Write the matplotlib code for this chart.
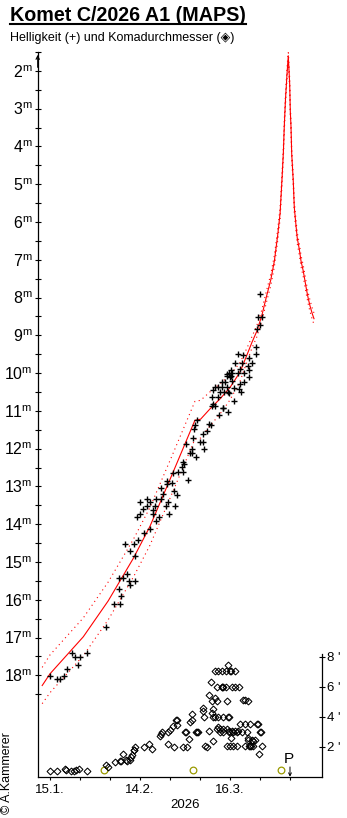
import matplotlib
matplotlib.use('Agg')
import matplotlib.pyplot as plt
from matplotlib.lines import Line2D
import numpy as np

plt.rcParams['font.family'] = ['Liberation Sans', 'DejaVu Sans']
plt.rcParams['mathtext.fontset'] = 'custom'
plt.rcParams['mathtext.rm'] = 'Liberation Sans'
plt.rcParams['mathtext.it'] = 'Liberation Sans:italic'
plt.rcParams['mathtext.bf'] = 'Liberation Sans:bold'

# ---- data (x = day of year 2026, 1 = 1 Jan) ----
mag_days = [14.9, 17.4, 18.4, 19.8, 20.6, 22.4, 23.4, 25.1, 24.4, 27.4,
            33.8, 36.5, 38.4, 38.6, 38.1, 41.7, 41.2, 43.4, 40.8, 38.1,
            39.4, 41.7, 40.1, 43.1, 43.5, 44.4, 46.4, 48.4, 44.1, 45.1,
            46.1, 47.2, 47.4, 48.4, 49.2, 49.4, 50.3, 51.4, 50.1, 50.2,
            52.1, 52.8, 53.6, 54.2, 54.8, 52.1, 54.0, 54.1, 56.1, 55.8,
            56.4, 45.0, 56.8, 57.2, 57.6, 59.4, 59.1, 59.4, 59.8, 60.9,
            60.2, 61.7, 62.4, 62.2, 63.6, 62.8, 65.0, 65.9, 66.3, 66.1,
            67.4, 68.1, 68.6, 63.9, 63.3, 63.1, 68.9, 69.4, 68.9, 70.0,
            72.6, 71.4, 71.1, 69.4, 70.0, 71.1, 72.2, 73.9, 73.0, 74.4,
            72.2, 73.3, 74.1, 75.0, 71.7, 74.7, 76.4, 74.4, 72.8, 76.4,
            78.0, 78.7, 78.3, 79.8, 81.4, 75.7, 73.9, 75.2, 74.6, 75.6,
            77.6, 79.8, 75.2, 78.3, 81.4, 80.9, 76.6, 78.9, 82.2, 81.3,
            77.6, 79.4, 83.6, 83.6, 85.1, 84.4, 85.6, 85.1, 84.1]
mag_values = [18.01, 18.11, 18.11, 18.02, 17.83, 17.41, 17.52, 17.52, 17.73, 17.41,
              16.73, 16.12, 16.12, 15.91, 15.72, 15.61, 15.51, 15.51, 15.33, 15.42,
              15.42, 14.72, 14.52, 14.52, 14.83, 14.41, 14.22, 14.12, 13.82, 13.73,
              13.61, 13.51, 13.34, 13.40, 13.62, 13.73, 13.91, 13.81, 13.52, 13.33,
              13.32, 13.21, 13.52, 13.40, 13.73, 13.03, 12.85, 12.93, 12.64, 12.92,
              13.12, 13.40, 13.52, 13.23, 12.61, 12.61, 12.48, 12.35, 12.41, 12.82,
              11.88, 12.11, 12.11, 12.02, 12.22, 11.72, 11.82, 11.82, 12.02, 11.62,
              11.52, 11.34, 11.38, 11.25, 11.38, 11.47, 10.62, 10.82, 10.88, 10.86,
              10.93, 11.12, 10.62, 10.46, 10.38, 10.38, 10.38, 10.38, 10.51, 10.51,
              10.23, 10.23, 10.03, 10.11, 10.51, 10.53, 10.73, 11.02, 10.92, 10.40,
              10.42, 10.51, 10.29, 10.23, 10.11, 10.22, 10.09, 10.09, 10.00, 10.00,
              10.00, 10.00, 9.92, 9.88, 9.91, 9.81, 9.72, 9.72, 9.72, 9.61,
              9.50, 9.52, 9.50, 9.32, 8.73, 8.52, 8.52, 7.91, 8.84]

coma_days = [14.9, 17.4, 19.9, 20.3, 21.9, 22.9, 23.6, 24.6, 27.4,
             33.8, 34.3, 36.6, 38.2, 38.8, 39.3, 40.4, 40.6, 41.6, 41.9, 42.2, 42.9, 43.1, 43.3,
             46.4, 48.1, 49.1, 51.7, 52.0, 52.2, 54.2, 54.2, 55.0, 55.9, 56.4, 56.9, 57.2, 57.2,
             59.2, 60.0, 60.2, 60.6, 61.4, 61.7, 62.2, 62.2, 63.6, 64.1, 64.4,
             65.9, 66.1, 66.3, 66.7, 67.4, 68.1, 68.1, 68.7, 68.9, 68.9, 69.4, 69.4, 69.4,
             70.0, 70.0, 70.0, 70.6, 70.6, 70.6, 71.1, 71.1, 71.1, 71.7, 71.7,
             72.2, 72.3, 72.2, 72.8, 72.8, 72.8, 72.8, 73.7, 73.7, 73.9, 73.9, 73.9,
             74.4, 74.6, 74.4, 74.7, 74.8, 75.0, 75.1, 75.3, 75.3, 75.6, 75.6, 76.1, 76.1,
             76.7, 76.7, 76.7, 77.2, 77.4, 77.8,
             78.1, 78.3, 78.9, 79.2, 80.0, 80.0, 80.0, 80.6, 81.1, 81.1, 81.1, 81.7,
             81.5, 81.7, 81.9, 82.2, 82.8, 82.8, 83.3, 84.0, 84.2, 84.8, 85.1, 85.3, 85.6]
coma_arcmin = [0.40, 0.40, 0.53, 0.47, 0.40, 0.40, 0.47, 0.53, 0.40,
               0.75, 0.62, 0.98, 1.02, 1.02, 1.53, 1.13, 1.02, 1.13, 1.31, 1.47, 1.80, 1.80, 1.98,
               1.98, 2.20, 1.87, 2.73, 2.85, 2.96, 2.96, 2.20, 3.13, 3.36, 1.96, 3.80, 3.76, 3.47,
               1.96, 2.96, 2.96, 1.96, 2.51, 3.64, 3.76, 4.18, 2.96, 2.96, 2.96,
               4.36, 4.58, 3.98, 2.07, 1.98, 5.47, 3.02, 6.31, 4.24, 5.02, 4.53, 2.40, 3.98,
               5.25, 3.98, 7.02, 5.98, 5.07, 3.15, 7.02, 3.98, 3.31, 2.98, 3.20,
               5.98, 5.98, 7.02, 5.98, 3.98, 2.98, 3.15, 7.02, 5.98, 5.02, 2.07, 3.20,
               3.98, 3.98, 7.42, 2.98, 3.02, 2.07, 7.02, 7.02, 2.58, 5.98, 3.02, 2.07, 2.98,
               7.02, 5.98, 3.02, 2.07, 2.98, 3.02,
               5.98, 3.53, 2.98, 5.09, 5.13, 3.53, 2.07, 2.98, 5.02, 2.58, 2.47, 3.53,
               2.07, 2.07, 2.07, 2.47, 2.07, 2.40, 2.47, 3.53, 3.53, 1.51, 2.98, 2.98, 2.07]

curve_days = [12.4, 15.0, 26.1, 34.4, 42.8, 48.3, 56.1, 63.3, 65.2, 68.3,
              71.7, 75.0, 78.3, 80.7, 82.3, 83.9, 85.6, 87.2, 88.6, 89.8,
              90.9, 91.7, 92.4, 92.8, 93.1, 93.5, 94.0, 94.43, 94.9, 95.1,
              95.33, 95.57, 96.1, 96.43, 97.0, 97.43, 98.1, 98.67, 99.43, 100.0,
              100.57, 101.1, 101.67, 102.43, 103.0]
curve_mags = [18.27, 17.96, 16.98, 16.03, 14.90, 14.06, 12.61, 11.25, 11.22, 10.95,
              10.68, 10.38, 9.98, 9.51, 9.19, 8.90, 8.48, 7.96, 7.53, 7.03,
              6.35, 5.77, 4.77, 4.14, 3.46, 2.75, 2.09, 1.60, 2.35, 3.06,
              3.46, 4.19, 4.93, 5.61, 6.09, 6.43, 6.72, 7.03, 7.30, 7.56,
              7.82, 8.03, 8.22, 8.43, 8.56]
# half-width of the dotted uncertainty band (mag) at each curve point
band_halfwidth = [0.48, 0.50, 0.50, 0.50, 0.50, 0.50, 0.50, 0.50, 0.50, 0.45,
                  0.40, 0.33, 0.25, 0.18, 0.15, 0.15, 0.15, 0.15, 0.15, 0.15,
                  0.15, 0.15, 0.15, 0.15, 0.15, 0.15, 0.15, 0.15, 0.15, 0.15,
                  0.15, 0.15, 0.15, 0.15, 0.15, 0.15, 0.15, 0.15, 0.15, 0.15,
                  0.15, 0.15, 0.15, 0.15, 0.15]

fullmoon_days = [33.0, 62.8, 92.0]
fullmoon_arcmin = [0.47, 0.47, 0.47]
perihelion_day = 95.0

mag_ticks = list(range(2, 19))
mag_minor = [m + 0.5 for m in range(1, 19)]
date_ticks = [15, 25, 35, 45, 55, 65, 75, 85, 95]
date_label_days = [15, 45, 75]
date_labels = ['15.1.', '14.2.', '16.3.']
coma_ticks = [2, 4, 6, 8]

# ---- figure ----
W, H = 347, 818
fig = plt.figure(figsize=(W / 100, H / 100), dpi=100)
x0, x1, ytop, ybot = 37.7, 322.0, 52.0, 776.7
ax = fig.add_axes([x0 / W, (H - ybot) / H, (x1 - x0) / W, (ybot - ytop) / H])
ax2 = ax.twinx()
ax.set_zorder(2)
ax.patch.set_visible(False)

ax.set_xlim(10.9, 105.67)
ax.set_ylim(20.684, 1.613)
ax2.set_ylim(0, (ybot - ytop) / 15.0)

red = '#ff0000'
cd = np.array(curve_days)
cm = np.array(curve_mags)
bw = np.array(band_halfwidth)
ax.plot(cd, cm, color=red, lw=0.8, zorder=3)
ax.plot(cd, cm - bw, color=red, lw=0.8, ls=(0, (1, 3.2)), zorder=3)
ax.plot(cd, cm + bw, color=red, lw=0.8, ls=(0, (1, 3.2)), zorder=3)
ax.plot(mag_days, mag_values, '+', color='black', ms=4.5, mew=1.0, zorder=4)

ax2.plot(coma_days, coma_arcmin, 'D', ms=3.5, mfc='none', mec='black', mew=0.75, zorder=3)
ax2.plot(fullmoon_days, fullmoon_arcmin, 'o', ms=4.8, mfc='none', mec='#9a9a00', mew=0.9)

# spines
for s in ['top', 'right']:
    ax.spines[s].set_visible(False)
for s in ['top', 'left', 'bottom']:
    ax2.spines[s].set_visible(False)
for a in (ax, ax2):
    for s in a.spines.values():
        s.set_linewidth(0.9)
ax2.spines['right'].set_bounds(0, 8.15)

# left ticks
ax.set_yticks(mag_ticks)
ax.set_yticklabels([r'$\mathrm{%d}^{\mathrm{m}}$' % m for m in mag_ticks], fontsize=11.5)
ax.set_yticks(mag_minor, minor=True)
ax.tick_params(axis='y', which='both', direction='inout', length=4.5, width=0.8, pad=1.5)

# bottom ticks
ax.set_xticks(date_ticks)
ax.set_xticklabels([date_labels[date_label_days.index(d)] if d in date_label_days else ''
                    for d in date_ticks], fontsize=9.5)
ax.tick_params(axis='x', direction='out', length=2.5, width=0.8, pad=3)

# right ticks
ax2.set_yticks(coma_ticks)
ax2.set_yticklabels(["%d '" % c for c in coma_ticks], fontsize=9.5)
ax2.tick_params(axis='y', direction='inout', length=4.5, width=0.8, pad=1.5)

# arrow on top of left axis
ax.annotate('', xy=(0, 1.0), xytext=(0, 0.975), xycoords='axes fraction',
            arrowprops=dict(arrowstyle='->', lw=0.8, mutation_scale=6, color='black'))

# perihelion marker
ax2.text(perihelion_day - 0.3, 1.15, 'P', ha='center', va='center', fontsize=11)
ax2.annotate('', xy=(perihelion_day, 0.0), xytext=(perihelion_day, 0.65),
             arrowprops=dict(arrowstyle='->', lw=0.7, mutation_scale=5, color='black',
                             shrinkA=0, shrinkB=0))

# texts
fig.text(10 / W, 1 - 20.7 / H, 'Komet C/2026 A1 (MAPS)', fontsize=14.2, fontweight='bold',
         ha='left', va='baseline')
fig.add_artist(Line2D([10 / W, 246 / W], [1 - 24 / H, 1 - 24 / H], lw=1.5, color='black'))
fig.text(10 / W, 1 - 40.7 / H, 'Helligkeit (+) und Komadurchmesser (\u25c8)', fontsize=9,
         ha='left', va='baseline')
fig.text(185 / W, 1 - 805 / H, '2026', fontsize=9.5, ha='center', va='center')
fig.text(6.7 / W, 1 - 773.5 / H, '\u00a9 A.Kammerer', fontsize=9, rotation=90,
         ha='center', va='center')

fig.savefig('out.png', dpi=100)
